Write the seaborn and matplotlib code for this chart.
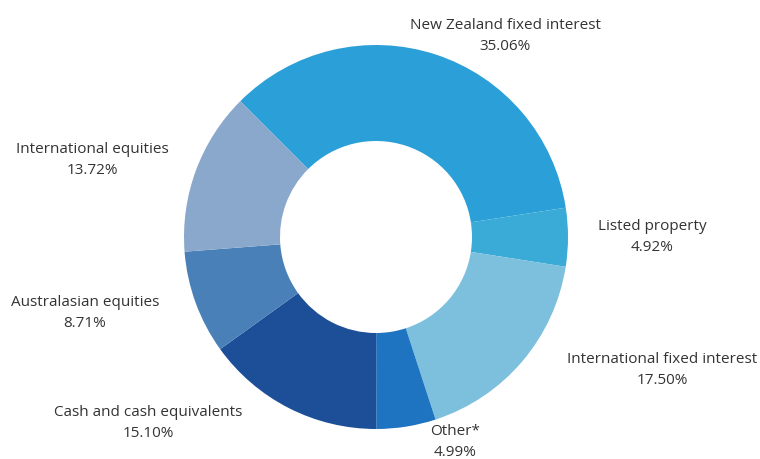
import matplotlib
matplotlib.use('Agg')
import matplotlib.pyplot as plt
import seaborn as sns

# data
categories = ['New Zealand fixed interest', 'Listed property', 'International fixed interest',
              'Other*', 'Cash and cash equivalents', 'Australasian equities', 'International equities']
shares = [35.06, 4.92, 17.50, 4.99, 15.10, 8.71, 13.72]
colors = ['#2a9fd8', '#3aabd6', '#7cc0de', '#1e74c0', '#1d4f98', '#4a80b8', '#8aa8cc']

# label centres in pixels (x, y from top)
label_pos = [(505, 36), (652, 237), (662, 370), (455, 442), (148, 423), (85, 313), (92, 160)]

sns.set_theme(style='white')
plt.rcParams['font.family'] = ['Open Sans', 'DejaVu Sans']

W, H = 760, 459
fig = plt.figure(figsize=(W / 100, H / 100), dpi=100)
ax = fig.add_axes([0, 0, 1, 1])

ax.pie(shares, colors=colors, startangle=135, counterclock=False,
       center=(376, H - 237), radius=192, frame=True,
       wedgeprops=dict(width=96, linewidth=0))
ax.set_xlim(0, W)
ax.set_ylim(0, H)
ax.set_aspect('equal')
ax.axis('off')

for name, val, (px, py) in zip(categories, shares, label_pos):
    ax.text(px, H - py, f'{name}\n{val:.2f}%', ha='center', va='center',
            fontsize=11, color='#333333', linespacing=1.5)

fig.savefig('out.png', dpi=100)
